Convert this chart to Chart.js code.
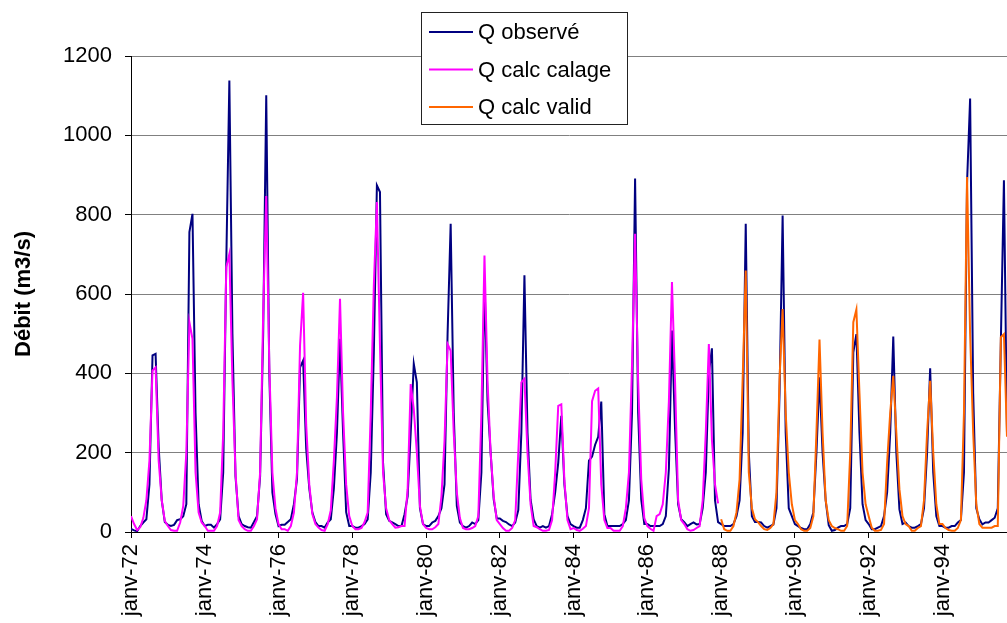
<!DOCTYPE html>
<html><head><meta charset="utf-8">
<script src="https://cdn.jsdelivr.net/npm/chart.js@4.4.1/dist/chart.umd.min.js"></script>
<style>html,body{margin:0;padding:0;background:#fff;overflow:hidden}#wrap{width:1007px;height:623px;position:relative}</style>
</head><body><div id="wrap"><canvas id="c" width="1007" height="623"></canvas></div>
<script>
// Tick labels (every 24 months, first month = janv-72)
const tickLabels = ['janv-72','janv-74','janv-76','janv-78','janv-80','janv-82','janv-84','janv-86','janv-88','janv-90','janv-92','janv-94'];
const monthsPerTick = 24;

// Q observé, monthly, janv-72 .. oct-95
const qObserve = [
  8, 4, 2, 15, 24, 32, 120, 445, 449, 215, 80, 25,
  18, 15, 18, 30, 32, 40, 70, 756, 802, 300, 70, 28,
  15, 18, 18, 11, 20, 32, 150, 680, 1138, 500, 140, 40,
  20, 15, 12, 11, 25, 40, 140, 500, 1101, 400, 100, 45,
  15, 18, 18, 25, 32, 70, 133, 415, 432, 210, 110, 49,
  25, 15, 15, 11, 24, 32, 110, 250, 487, 250, 50, 15,
  15, 11, 11, 15, 20, 32, 150, 450, 874, 857, 175, 45,
  28, 24, 20, 15, 15, 45, 90, 250, 424, 377, 60, 20,
  15, 15, 24, 28, 40, 60, 120, 500, 777, 300, 66, 24,
  15, 11, 15, 24, 20, 30, 150, 634, 330, 200, 82, 34,
  34, 28, 25, 19, 15, 24, 55, 250, 647, 250, 82, 32,
  15, 11, 15, 11, 15, 45, 100, 175, 293, 120, 40, 20,
  15, 11, 11, 30, 60, 180, 190, 220, 240, 329, 45, 15,
  15, 15, 15, 15, 20, 30, 80, 300, 891, 300, 82, 20,
  20, 15, 15, 15, 15, 20, 40, 160, 508, 260, 70, 32,
  25, 15, 20, 24, 19, 20, 60, 150, 400, 463, 80, 25,
  20, 15, 15, 15, 20, 40, 80, 250, 777, 200, 40, 25,
  25, 24, 15, 11, 15, 19, 60, 350, 798, 250, 60, 40,
  20, 15, 10, 7, 7, 20, 50, 200, 390, 200, 80, 17,
  3, 5, 11, 15, 15, 20, 60, 453, 499, 250, 70, 30,
  20, 7, 7, 11, 15, 40, 100, 250, 493, 200, 57, 20,
  24, 15, 11, 11, 15, 20, 60, 200, 413, 150, 40, 15,
  15, 11, 11, 15, 15, 24, 30, 150, 880, 1093, 350, 60,
  32, 19, 24, 24, 30, 36, 60, 480, 887, 250
];

// Q calc calage, monthly, janv-72 .. déc-87
const qCalage = [
  40, 20, 5, 12, 35, 80, 180, 407, 415, 180, 80, 28,
  15, 5, 3, 3, 24, 66, 200, 529, 487, 150, 49, 24,
  15, 3, 3, 3, 15, 49, 250, 668, 701, 380, 150, 30,
  15, 7, 3, 3, 15, 32, 150, 550, 847, 420, 150, 60,
  20, 7, 7, 3, 15, 49, 150, 470, 603, 270, 120, 45,
  20, 11, 5, 3, 20, 55, 180, 340, 588, 300, 120, 40,
  15, 7, 7, 10, 25, 49, 301, 621, 832, 470, 150, 60,
  30, 20, 11, 12, 15, 15, 108, 373, 310, 200, 66, 20,
  10, 7, 7, 12, 20, 90, 230, 474, 457, 250, 100, 35,
  10, 7, 7, 10, 15, 40, 300, 697, 380, 200, 90, 30,
  20, 10, 3, 3, 10, 30, 200, 377, 386, 200, 70, 15,
  12, 7, 3, 3, 5, 30, 150, 318, 322, 130, 30, 7,
  10, 5, 3, 8, 15, 60, 330, 356, 362, 120, 30, 10,
  10, 3, 3, 3, 15, 60, 150, 420, 752, 380, 133, 35,
  15, 8, 3, 40, 45, 70, 150, 330, 630, 380, 80, 30,
  20, 7, 3, 5, 10, 15, 80, 250, 474, 232, 120, 72
];

// Q calc valid, monthly, janv-88 .. oct-95
const validStartMonth = 192;
const qValid = [
  32, 7, 3, 3, 15, 50, 133, 386, 659, 150, 60, 32,
  25, 15, 7, 5, 10, 20, 100, 386, 562, 300, 150, 70,
  30, 20, 7, 3, 3, 10, 40, 250, 485, 250, 80, 30,
  15, 10, 7, 3, 3, 15, 200, 529, 561, 350, 150, 70,
  40, 11, 3, 3, 5, 20, 175, 300, 394, 250, 108, 40,
  20, 15, 3, 3, 10, 15, 80, 250, 381, 200, 70, 20,
  20, 10, 5, 3, 3, 10, 30, 300, 895, 500, 250, 70,
  20, 11, 11, 11, 11, 15, 15, 491, 499, 240
];

const seriesNames = ['Q observé', 'Q calc calage', 'Q calc valid'];
const seriesColors = ['#000080', '#FF00FF', '#FF6600'];
const yTitle = 'Débit (m3/s)';

const FONT = '"Liberation Sans", Arial, Helvetica, sans-serif';
Chart.defaults.font.family = FONT;
Chart.defaults.font.size = 22;
Chart.defaults.color = '#000';

const toPts = (arr, start) => arr.map((v, k) => ({x: start + k, y: v}));

const boxLegend = {
  id: 'boxLegend',
  afterDraw(chart) {
    const ctx = chart.ctx;
    ctx.save();
    const bx = 421, by = 12, bw = 206, bh = 112;
    ctx.fillStyle = '#fff';
    ctx.fillRect(bx, by, bw, bh);
    ctx.strokeStyle = '#222';
    ctx.lineWidth = 1;
    ctx.strokeRect(bx + 0.5, by + 0.5, bw, bh);
    ctx.font = '22px ' + FONT;
    ctx.textBaseline = 'middle';
    ctx.textAlign = 'left';
    chart.data.datasets.forEach((ds, k) => {
      const y = 32 + k * 37.5;
      ctx.strokeStyle = ds.borderColor;
      ctx.lineWidth = 2;
      ctx.beginPath();
      ctx.moveTo(429, y);
      ctx.lineTo(473, y);
      ctx.stroke();
      ctx.fillStyle = '#000';
      ctx.fillText(ds.label, 478, y + 1);
    });
    ctx.restore();
  }
};

new Chart(document.getElementById('c'), {
  type: 'line',
  data: {
    datasets: [
      {label: seriesNames[0], data: toPts(qObserve, 0), borderColor: seriesColors[0], order: 3},
      {label: seriesNames[1], data: toPts(qCalage, 0), borderColor: seriesColors[1], order: 2},
      {label: seriesNames[2], data: toPts(qValid, validStartMonth), borderColor: seriesColors[2], order: 1}
    ]
  },
  options: {
    responsive: false,
    animation: false,
    devicePixelRatio: 1,
    elements: {
      line: {borderWidth: 2, tension: 0, fill: false},
      point: {radius: 0, hoverRadius: 0}
    },
    layout: {padding: {top: 56, right: 0, bottom: 0, left: 0}},
    plugins: {legend: {display: false}, tooltip: {enabled: false}},
    scales: {
      x: {
        type: 'linear',
        min: 0,
        max: qObserve.length - 1,
        afterBuildTicks: s => { s.ticks = tickLabels.map((_, k) => ({value: k * monthsPerTick})); },
        afterFit: s => { s.height = 91; },
        ticks: {
          autoSkip: false,
          maxRotation: 90,
          minRotation: 90,
          padding: 6,
          color: '#000',
          callback: v => tickLabels[Math.round(v / monthsPerTick)]
        },
        grid: {drawOnChartArea: false, drawTicks: true, tickLength: 6, color: '#000'},
        border: {color: '#000', width: 1}
      },
      y: {
        min: 0,
        max: 1200,
        afterFit: s => { s.width = 131; },
        ticks: {stepSize: 200, padding: 13, color: '#000', callback: v => String(v)},
        grid: {color: '#808080', tickColor: '#000', tickLength: 6},
        border: {color: '#000', width: 1},
        title: {display: true, text: yTitle, color: '#000', font: {size: 22, weight: 'bold'}, padding: {top: 11, bottom: 0}}
      }
    }
  },
  plugins: [boxLegend]
});
</script>
</body></html>
